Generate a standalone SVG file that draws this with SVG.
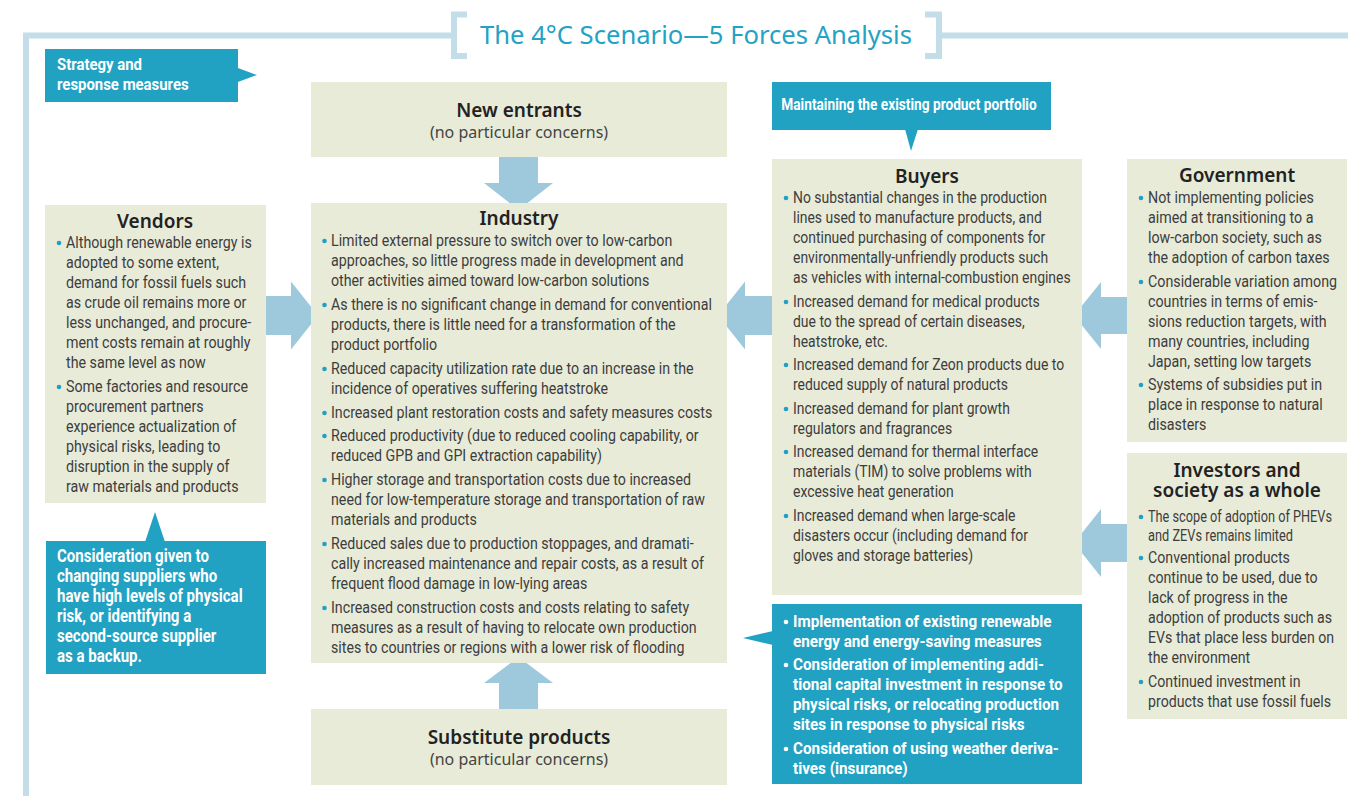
<svg xmlns="http://www.w3.org/2000/svg" width="1348" height="796" viewBox="0 0 1348 796">
<style>
.bg{fill:#ffffff}
.box{fill:#e8ebd8}
.call{fill:#21a2c3}
.arr{fill:#9ec9dc}
.frame{fill:none;stroke:#c3dde9;stroke-width:6}
.title{font-family:'Noto Sans','Open Sans',sans-serif;font-size:25px;fill:#23a2c4;text-anchor:middle}
.h{font-family:'Noto Sans','Open Sans',sans-serif;font-size:19px;font-weight:600;fill:#222222;text-anchor:middle}
.sub{font-family:'Noto Sans','Open Sans',sans-serif;font-size:16px;fill:#444444;text-anchor:middle}
.b{font-family:Roboto,'Liberation Sans',sans-serif;font-size:16.5px;fill:#3d3d3d}
.w{font-family:Roboto,'Liberation Sans',sans-serif;font-size:16.5px;font-weight:bold;fill:#ffffff}
.wl{font-family:Roboto,'Liberation Sans',sans-serif;font-size:17.5px;font-weight:bold;fill:#ffffff}
.dot{fill:#1fa0c4}
.wdot{fill:#ffffff}
</style>
<rect class="bg" x="0" y="0" width="1348" height="796"/>

<g id="frame">
<path class="frame" d="M26,796 V35.5 H454"/>
<path class="frame" d="M939,35.5 H1348"/>
<path class="frame" d="M467,14.5 H454 V56 H467"/>
<path class="frame" d="M925,14.5 H939 V56 H925"/>
<text class="title" x="696" y="44" textLength="432" lengthAdjust="spacingAndGlyphs">The 4°C Scenario—5 Forces Analysis</text>
</g>

<g id="connectors">
<polygon class="arr" points="499,157 538,157 538,183 553,183 518.5,210 484,183 499,183"/>
<polygon class="arr" points="499,709 538,709 538,683 553,683 518.5,657 484,683 499,683"/>
<polygon class="arr" points="266,296 291,296 291,281.5 318,315.5 291,349.5 291,335 266,335"/>
<polygon class="arr" points="772,296 745,296 745,281.5 718,315.5 745,349.5 745,335 772,335"/>
<polygon class="arr" points="1127,297 1101,297 1101,282 1074,315.5 1101,349 1101,334 1127,334"/>
<polygon class="arr" points="1127,524 1101,524 1101,509 1074,543 1101,577 1101,562 1127,562"/>
</g>

<g id="strategy">
<rect class="call" x="45" y="49" width="193" height="53"/>
<polygon class="call" points="238,68 257,75 238,82"/>
<g transform="translate(57,0) scale(0.905,1)">
<text class="w"><tspan x="0" y="70">Strategy and</tspan><tspan x="0" y="90">response measures</tspan></text>
</g>
</g>

<g id="new-entrants">
<rect class="box" x="311" y="82" width="416" height="75"/>
<text class="h" x="519" y="117">New entrants</text>
<text class="sub" x="519" y="138">(no particular concerns)</text>
</g>

<g id="maintaining">
<rect class="call" x="772" y="82" width="279" height="48"/>
<polygon class="call" points="905,129 911,151 918,129"/>
<g transform="translate(909,0) scale(0.83,1)">
<text class="w" x="0" y="110" text-anchor="middle">Maintaining the existing product portfolio</text>
</g>
</g>

<g id="industry">
<rect class="box" x="311" y="203" width="416" height="460"/>
<text class="h" x="519" y="225">Industry</text>
<circle class="dot" cx="324.5" cy="241" r="2.3"/>
<circle class="dot" cx="324.5" cy="305" r="2.3"/>
<circle class="dot" cx="324.5" cy="369" r="2.3"/>
<circle class="dot" cx="324.5" cy="413" r="2.3"/>
<circle class="dot" cx="324.5" cy="436" r="2.3"/>
<circle class="dot" cx="324.5" cy="480" r="2.3"/>
<circle class="dot" cx="324.5" cy="544" r="2.3"/>
<circle class="dot" cx="324.5" cy="608" r="2.3"/>
<g transform="translate(331,0) scale(0.862,1)">
<text class="b">
<tspan x="0" y="246">Limited external pressure to switch over to low-carbon</tspan>
<tspan x="0" y="266">approaches, so little progress made in development and</tspan>
<tspan x="0" y="286">other activities aimed toward low-carbon solutions</tspan>
<tspan x="0" y="310">As there is no significant change in demand for conventional</tspan>
<tspan x="0" y="330">products, there is little need for a transformation of the</tspan>
<tspan x="0" y="350">product portfolio</tspan>
<tspan x="0" y="374">Reduced capacity utilization rate due to an increase in the</tspan>
<tspan x="0" y="394">incidence of operatives suffering heatstroke</tspan>
<tspan x="0" y="418">Increased plant restoration costs and safety measures costs</tspan>
<tspan x="0" y="441">Reduced productivity (due to reduced cooling capability, or</tspan>
<tspan x="0" y="461">reduced GPB and GPI extraction capability)</tspan>
<tspan x="0" y="485">Higher storage and transportation costs due to increased</tspan>
<tspan x="0" y="505">need for low-temperature storage and transportation of raw</tspan>
<tspan x="0" y="525">materials and products</tspan>
<tspan x="0" y="549">Reduced sales due to production stoppages, and dramati-</tspan>
<tspan x="0" y="569">cally increased maintenance and repair costs, as a result of</tspan>
<tspan x="0" y="589">frequent flood damage in low-lying areas</tspan>
<tspan x="0" y="613">Increased construction costs and costs relating to safety</tspan>
<tspan x="0" y="633">measures as a result of having to relocate own production</tspan>
<tspan x="0" y="653">sites to countries or regions with a lower risk of flooding</tspan>
</text>
</g>
</g>

<g id="substitute">
<rect class="box" x="311" y="709" width="416" height="76"/>
<text class="h" x="519" y="744">Substitute products</text>
<text class="sub" x="519" y="765">(no particular concerns)</text>
</g>

<g id="vendors">
<rect class="box" x="45" y="205" width="221" height="298"/>
<text class="h" x="155" y="228">Vendors</text>
<circle class="dot" cx="59" cy="243" r="2.3"/>
<circle class="dot" cx="59" cy="387" r="2.3"/>
<g transform="translate(66,0) scale(0.863,1)">
<text class="b">
<tspan x="0" y="248">Although renewable energy is</tspan>
<tspan x="0" y="268">adopted to some extent,</tspan>
<tspan x="0" y="288">demand for fossil fuels such</tspan>
<tspan x="0" y="308">as crude oil remains more or</tspan>
<tspan x="0" y="328">less unchanged, and procure-</tspan>
<tspan x="0" y="348">ment costs remain at roughly</tspan>
<tspan x="0" y="368">the same level as now</tspan>
<tspan x="0" y="392">Some factories and resource</tspan>
<tspan x="0" y="412">procurement partners</tspan>
<tspan x="0" y="432">experience actualization of</tspan>
<tspan x="0" y="452">physical risks, leading to</tspan>
<tspan x="0" y="472">disruption in the supply of</tspan>
<tspan x="0" y="492">raw materials and products</tspan>
</text>
</g>
</g>

<g id="supplier-callout">
<rect class="call" x="46" y="541" width="220" height="133"/>
<polygon class="call" points="145,542 155,512 165,542"/>
<g transform="translate(57,0) scale(0.86,1)">
<text class="wl">
<tspan x="0" y="562">Consideration given to</tspan>
<tspan x="0" y="582">changing suppliers who</tspan>
<tspan x="0" y="602">have high levels of physical</tspan>
<tspan x="0" y="622">risk, or identifying a</tspan>
<tspan x="0" y="642">second-source supplier</tspan>
<tspan x="0" y="662">as a backup.</tspan>
</text>
</g>
</g>

<g id="buyers">
<rect class="box" x="772" y="159" width="310" height="436"/>
<text class="h" x="927" y="183">Buyers</text>
<circle class="dot" cx="786" cy="198" r="2.3"/>
<circle class="dot" cx="786" cy="302" r="2.3"/>
<circle class="dot" cx="786" cy="365" r="2.3"/>
<circle class="dot" cx="786" cy="409" r="2.3"/>
<circle class="dot" cx="786" cy="452" r="2.3"/>
<circle class="dot" cx="786" cy="516" r="2.3"/>
<g transform="translate(793,0) scale(0.845,1)">
<text class="b">
<tspan x="0" y="203">No substantial changes in the production</tspan>
<tspan x="0" y="223">lines used to manufacture products, and</tspan>
<tspan x="0" y="243">continued purchasing of components for</tspan>
<tspan x="0" y="263">environmentally-unfriendly products such</tspan>
<tspan x="0" y="283">as vehicles with internal-combustion engines</tspan>
<tspan x="0" y="307">Increased demand for medical products</tspan>
<tspan x="0" y="327">due to the spread of certain diseases,</tspan>
<tspan x="0" y="347">heatstroke, etc.</tspan>
<tspan x="0" y="370">Increased demand for Zeon products due to</tspan>
<tspan x="0" y="390">reduced supply of natural products</tspan>
<tspan x="0" y="414">Increased demand for plant growth</tspan>
<tspan x="0" y="434">regulators and fragrances</tspan>
<tspan x="0" y="457">Increased demand for thermal interface</tspan>
<tspan x="0" y="477">materials (TIM) to solve problems with</tspan>
<tspan x="0" y="497">excessive heat generation</tspan>
<tspan x="0" y="521">Increased demand when large-scale</tspan>
<tspan x="0" y="541">disasters occur (including demand for</tspan>
<tspan x="0" y="561">gloves and storage batteries)</tspan>
</text>
</g>
</g>

<g id="measures-callout">
<rect class="call" x="772" y="604" width="310" height="180"/>
<polygon class="call" points="773,631 743,638 773,645"/>
<circle class="wdot" cx="786" cy="622" r="2.3"/>
<circle class="wdot" cx="786" cy="665" r="2.3"/>
<circle class="wdot" cx="786" cy="749" r="2.3"/>
<g transform="translate(793,0) scale(0.925,1)">
<text class="w">
<tspan x="0" y="627">Implementation of existing renewable</tspan>
<tspan x="0" y="647">energy and energy-saving measures</tspan>
<tspan x="0" y="670">Consideration of implementing addi-</tspan>
<tspan x="0" y="690">tional capital investment in response to</tspan>
<tspan x="0" y="710">physical risks, or relocating production</tspan>
<tspan x="0" y="730">sites in response to physical risks</tspan>
<tspan x="0" y="754">Consideration of using weather deriva-</tspan>
<tspan x="0" y="774">tives (insurance)</tspan>
</text>
</g>
</g>

<g id="government">
<rect class="box" x="1127" y="159" width="220" height="283"/>
<text class="h" x="1237" y="182">Government</text>
<circle class="dot" cx="1141" cy="198" r="2.3"/>
<circle class="dot" cx="1141" cy="282" r="2.3"/>
<circle class="dot" cx="1141" cy="385" r="2.3"/>
<g transform="translate(1148,0) scale(0.865,1)">
<text class="b">
<tspan x="0" y="203">Not implementing policies</tspan>
<tspan x="0" y="223">aimed at transitioning to a</tspan>
<tspan x="0" y="243">low-carbon society, such as</tspan>
<tspan x="0" y="263">the adoption of carbon taxes</tspan>
<tspan x="0" y="287">Considerable variation among</tspan>
<tspan x="0" y="307">countries in terms of emis-</tspan>
<tspan x="0" y="327">sions reduction targets, with</tspan>
<tspan x="0" y="347">many countries, including</tspan>
<tspan x="0" y="367">Japan, setting low targets</tspan>
<tspan x="0" y="390">Systems of subsidies put in</tspan>
<tspan x="0" y="410">place in response to natural</tspan>
<tspan x="0" y="430">disasters</tspan>
</text>
</g>
</g>

<g id="investors">
<rect class="box" x="1127" y="453" width="220" height="266"/>
<text class="h"><tspan x="1237" y="477">Investors and</tspan><tspan x="1237" y="497">society as a whole</tspan></text>
<circle class="dot" cx="1141" cy="517" r="2.3"/>
<circle class="dot" cx="1141" cy="558" r="2.3"/>
<circle class="dot" cx="1141" cy="682" r="2.3"/>
<g transform="translate(1148,0) scale(0.815,1)">
<text class="b" x="0" y="522" textLength="225.8" lengthAdjust="spacingAndGlyphs">The scope of adoption of PHEVs</text>
<text class="b" x="0" y="541" textLength="177.9" lengthAdjust="spacingAndGlyphs">and ZEVs remains limited</text>
</g>
<g transform="translate(1148,0) scale(0.86,1)">
<text class="b">
<tspan x="0" y="563">Conventional products</tspan>
<tspan x="0" y="583">continue to be used, due to</tspan>
<tspan x="0" y="603">lack of progress in the</tspan>
<tspan x="0" y="623">adoption of products such as</tspan>
<tspan x="0" y="643">EVs that place less burden on</tspan>
<tspan x="0" y="663">the environment</tspan>
<tspan x="0" y="687">Continued investment in</tspan>
<tspan x="0" y="707">products that use fossil fuels</tspan>
</text>
</g>
</g>
</svg>
